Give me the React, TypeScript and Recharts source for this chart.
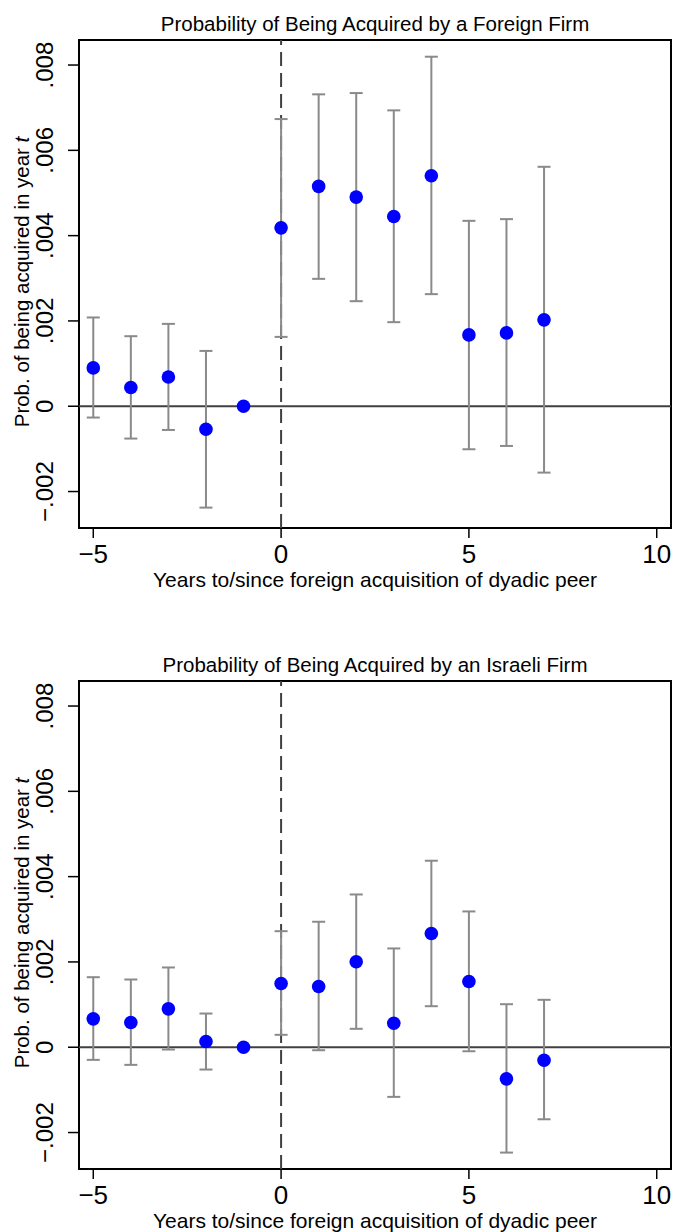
import React from 'react';
import { ScatterChart, Scatter, XAxis, YAxis, ErrorBar, ReferenceLine, ReferenceArea } from 'recharts';

const years = [-5, -4, -3, -2, -1, 0, 1, 2, 3, 4, 5, 6, 7];

const foreignCoef = [0.000899, 0.000439, 0.000687, -0.00054, 0, 0.004183, 0.005154, 0.004903, 0.00445, 0.005403, 0.001673, 0.00172, 0.002025];
const foreignLo = [-0.000265, -0.000758, -0.000556, -0.002377, null, 0.001626, 0.002987, 0.002463, 0.001971, 0.002628, -0.001009, -0.000931, -0.001556];
const foreignHi = [0.002081, 0.001642, 0.001931, 0.001297, null, 0.006733, 0.007313, 0.007343, 0.006937, 0.008195, 0.004347, 0.004387, 0.005614];

const israeliCoef = [0.000666, 0.00058, 0.0009, 0.000134, 0, 0.001494, 0.001424, 0.002003, 0.000563, 0.002667, 0.001541, -0.000741, -0.000305];
const israeliLo = [-0.000296, -0.000413, -0.000054, -0.000523, null, 0.000291, -0.00007, 0.000432, -0.001164, 0.000962, -0.000094, -0.00247, -0.001689];
const israeliHi = [0.001642, 0.001588, 0.00187, 0.00079, null, 0.002721, 0.002942, 0.003582, 0.002316, 0.004373, 0.003184, 0.001009, 0.001112];

const xTicks = [-5, 0, 5, 10];
const yTicks = [-0.002, 0, 0.002, 0.004, 0.006, 0.008];
const xDomain = [-5.38, 10.38];
const yDomain = [-0.002855, 0.008587];

const chartTitles = ['Probability of Being Acquired by a Foreign Firm', 'Probability of Being Acquired by an Israeli Firm'];
const xAxisTitle = 'Years to/since foreign acquisition of dyadic peer';
const yAxisTitle = 'Prob. of being acquired in year ';
const yAxisTitleItalic = 't';

const FONT = '"Liberation Sans", Arial, Helvetica, sans-serif';
const W = 673;
const H = 591;

function buildData(coef: number[], lo: (number | null)[], hi: (number | null)[]) {
  return years.map((x, i) => {
    const l = lo[i];
    const h = hi[i];
    return {
      x,
      y: coef[i],
      err: l == null || h == null ? undefined : [coef[i] - l, h - coef[i]],
    };
  });
}

const fmtY = (v: number) => {
  if (v === 0) return '0';
  const s = Math.abs(v).toFixed(3).replace(/^0/, '');
  return v < 0 ? '\u2212' + s : s;
};
const fmtX = (v: number) => (v < 0 ? '\u2212' + Math.abs(v) : String(v));

const YTick = (props: any) => {
  const { x, y, payload } = props;
  return (
    <text x={x} y={y} transform={`rotate(-90 ${x} ${y})`} textAnchor="middle" fontSize={24} fontFamily={FONT} fill="#000">
      {fmtY(payload.value)}
    </text>
  );
};

const XTick = (props: any) => {
  const { x, y, payload } = props;
  return (
    <text x={x} y={y} dy={24.5} textAnchor="middle" fontSize={26} fontFamily={FONT} fill="#000">
      {fmtX(payload.value)}
    </text>
  );
};

const Dot = (p: any) => <circle cx={p.cx} cy={p.cy} r={6.8} fill="#0000ff" />;

function Panel({ title, data, top }: { title: string; data: any[]; top: number }) {
  return (
    <div style={{ position: 'absolute', left: 0, top, width: W, height: H }}>
      <ScatterChart width={W} height={H} margin={{ top: 40, right: 2, bottom: 0, left: 0 }}>
        <XAxis
          type="number"
          dataKey="x"
          domain={xDomain}
          allowDataOverflow
          ticks={xTicks}
          interval={0}
          axisLine={false}
          tickSize={10}
          tickMargin={0}
          tickLine={{ stroke: '#000', strokeWidth: 1.5 }}
          tick={<XTick />}
          height={63}
        />
        <YAxis
          type="number"
          dataKey="y"
          domain={yDomain}
          allowDataOverflow
          ticks={yTicks}
          interval={0}
          axisLine={false}
          tickSize={11}
          tickMargin={15}
          tickLine={{ stroke: '#000', strokeWidth: 1.5 }}
          tick={<YTick />}
          width={79}
        />
        <ReferenceArea x1={xDomain[0]} x2={xDomain[1]} y1={yDomain[0]} y2={yDomain[1]} fill="none" fillOpacity={0} stroke="#000" strokeWidth={2} strokeOpacity={1} />
        <ReferenceLine y={0} stroke="#404040" strokeWidth={2} />
        <ReferenceLine x={0} stroke="#404040" strokeWidth={2} strokeDasharray="14 7" />
        <Scatter data={data} dataKey="y" shape={<Dot />} isAnimationActive={false}>
          <ErrorBar dataKey="err" direction="y" width={6.5} stroke="#8a8a8a" strokeWidth={2} isAnimationActive={false} />
        </Scatter>
      </ScatterChart>
      <svg width={W} height={H} style={{ position: 'absolute', left: 0, top: 0, pointerEvents: 'none' }}>
        <text x={375} y={31} textAnchor="middle" fontSize={20.5} fontFamily={FONT} fill="#000">
          {title}
        </text>
        <text x={375} y={587} textAnchor="middle" fontSize={21} fontFamily={FONT} fill="#000">
          {xAxisTitle}
        </text>
        <text x={29} y={282} transform="rotate(-90 29 282)" textAnchor="middle" fontSize={20.5} fontFamily={FONT} fill="#000">
          {yAxisTitle}
          <tspan fontStyle="italic">{yAxisTitleItalic}</tspan>
        </text>
      </svg>
    </div>
  );
}

export default function App() {
  const foreignData = buildData(foreignCoef, foreignLo, foreignHi);
  const israeliData = buildData(israeliCoef, israeliLo, israeliHi);
  return (
    <div style={{ position: 'absolute', left: 0, top: 0, width: W, height: 1232, background: '#fff' }}>
      <Panel title={chartTitles[0]} data={foreignData} top={0} />
      <Panel title={chartTitles[1]} data={israeliData} top={641} />
    </div>
  );
}
